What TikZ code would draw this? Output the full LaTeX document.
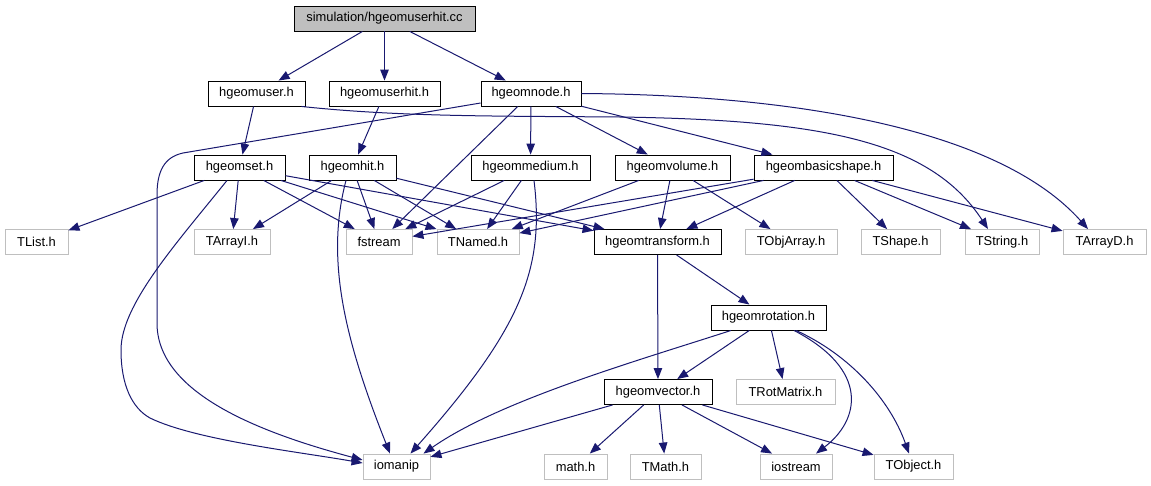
\documentclass[tikz,border=0pt]{standalone}
\usepackage{fontspec}
\setmainfont{Liberation Sans}
\usetikzlibrary{arrows.meta}
\definecolor{edgeblue}{HTML}{191970}
\definecolor{extgray}{HTML}{BFBFBF}
\begin{document}
\begin{tikzpicture}[x=1pt,y=-1pt,
  box/.style={rectangle, inner sep=0pt, line width=0.9pt, fill=white, text=black,
              font=\fontsize{12.9}{15}\selectfont, minimum height=25pt},
  doc/.style={box, draw=black},
  ext/.style={box, draw=extgray},
  rootbox/.style={box, draw=black, fill=extgray},
  dep/.style={draw=edgeblue, line width=1pt, -{Triangle[length=11pt,width=8.5pt]}}]
\useasboundingbox (0,0) rectangle (1151,485);
\fill[white] (0,0) rectangle (1151,485);

% row 1
\node[rootbox, minimum width=181pt] (root) at (384.5,18.5) {simulation/hgeomuserhit.cc};
% row 2
\node[doc, minimum width=97pt]  (huser)    at (256.5,93.5) {hgeomuser.h};
\node[doc, minimum width=111pt] (huserhit) at (384.5,93.5) {hgeomuserhit.h};
\node[doc, minimum width=100pt] (hnode)    at (531,93.5)   {hgeomnode.h};
% row 3
\node[doc, minimum width=91pt]  (hset)   at (239.5,167.5) {hgeomset.h};
\node[doc, minimum width=87pt]  (hhit)   at (352.5,167.5) {hgeomhit.h};
\node[doc, minimum width=119pt] (hmed)   at (530.5,167.5) {hgeommedium.h};
\node[doc, minimum width=115pt] (hvol)   at (672.5,167.5) {hgeomvolume.h};
\node[doc, minimum width=139pt] (hbasic) at (823.5,167.5) {hgeombasicshape.h};
% row 4
\node[ext, minimum width=63pt]  (TList)     at (36.5,242)  {TList.h};
\node[ext, minimum width=76pt]  (TArrayI)   at (232,242)   {TArrayI.h};
\node[ext, minimum width=66pt]  (fstream)   at (379,242)   {fstream};
\node[ext, minimum width=82pt]  (TNamed)    at (478,242)   {TNamed.h};
\node[doc, minimum width=127pt] (htrans)    at (657.5,242) {hgeomtransform.h};
\node[ext, minimum width=92pt]  (TObjArray) at (791,242)   {TObjArray.h};
\node[ext, minimum width=79pt]  (TShape)    at (900.5,242) {TShape.h};
\node[ext, minimum width=74pt]  (TString)   at (1002,242)  {TString.h};
\node[ext, minimum width=83pt]  (TArrayD)   at (1104.5,242){TArrayD.h};
% row 5
\node[doc, minimum width=115pt] (hrot) at (768.5,317.5) {hgeomrotation.h};
% row 6
\node[doc, minimum width=108pt] (hvec)       at (658,392)   {hgeomvector.h};
\node[ext, minimum width=99pt]  (TRotMatrix) at (785.5,392) {TRotMatrix.h};
% row 7
\node[ext, minimum width=67pt] (iomanip)  at (396.5,466.5) {iomanip};
\node[ext, minimum width=63pt] (mathh)    at (575.5,466.5) {math.h};
\node[ext, minimum width=71pt] (TMath)    at (665.5,466.5) {TMath.h};
\node[ext, minimum width=72pt] (iostream) at (796,466.5)   {iostream};
\node[ext, minimum width=79pt] (TObject)  at (913.5,466.5) {TObject.h};

% straight edges
\draw[dep] (root) -- (huser);
\draw[dep] (root) -- (huserhit);
\draw[dep] (root) -- (hnode);
\draw[dep] (huser) -- (hset);
\draw[dep] (huserhit) -- (hhit);
\draw[dep] (hnode) -- (fstream);
\draw[dep] (hnode) -- (hmed);
\draw[dep] (hnode) -- (hvol);
\draw[dep] (hnode) -- (hbasic);
\draw[dep] (hset) -- (TList);
\draw[dep] (hset) -- (TArrayI);
\draw[dep] (hset) -- (fstream);
\draw[dep] (hset) -- (TNamed);
\draw[dep] (hset) -- (htrans);
\draw[dep] (hhit) -- (TArrayI);
\draw[dep] (hhit) -- (fstream);
\draw[dep] (hhit) -- (TNamed);
\draw[dep] (hhit) -- (htrans);
\draw[dep] (hmed) -- (fstream);
\draw[dep] (hmed) -- (TNamed);
\draw[dep] (hvol) -- (TNamed);
\draw[dep] (hvol) -- (htrans);
\draw[dep] (hvol) -- (TObjArray);
\draw[dep] (hbasic) -- (fstream);
\draw[dep] (hbasic) -- (TNamed);
\draw[dep] (hbasic) -- (htrans);
\draw[dep] (hbasic) -- (TShape);
\draw[dep] (hbasic) -- (TString);
\draw[dep] (hbasic) -- (TArrayD);
\draw[dep] (htrans) -- (hrot);
\draw[dep] (htrans) -- (hvec);
\draw[dep] (hrot) -- (hvec);
\draw[dep] (hrot) -- (TRotMatrix);
\draw[dep] (hvec) -- (iomanip);
\draw[dep] (hvec) -- (mathh);
\draw[dep] (hvec) -- (TMath);
\draw[dep] (hvec) -- (iostream);
\draw[dep] (hvec) -- (TObject);

% curved edges
\draw[dep] ([xshift=-4pt]huser.south east)
  .. controls (400,117) and (500,116) .. (620,117)
  .. controls (820,120) and (930,140) .. ([xshift=-14pt]TString.north);
\draw[dep] ([xshift=0pt]hnode.east)
  .. controls (800,95) and (1000,130) .. ([xshift=-16.5pt]TArrayD.north);
\draw[dep] ([yshift=-9.5pt]hnode.west) -- (183,153)
  .. controls (165,157) and (157,170) .. (157,195) -- (157,323)
  .. controls (157,390) and (250,430) .. ([yshift=6.5pt]iomanip.west);
\draw[dep] ([xshift=-12.5pt]hset.south)
  .. controls (175,245) and (121,305) .. (121,350)
  .. controls (121,385) and (132,408) .. (150,418)
  .. controls (195,440) and (300,452) .. ([yshift=3.5pt]iomanip.west);
\draw[dep] ([xshift=-6.5pt]hhit.south)
  .. controls (325,260) and (345,340) .. ([xshift=-6.5pt]iomanip.north);
\draw[dep] ([xshift=3.5pt]hmed.south)
  .. controls (545,270) and (520,330) .. ([xshift=14pt]iomanip.north);
\draw[dep] ([xshift=-37.5pt]hrot.south)
  .. controls (640,360) and (500,400) .. ([xshift=27pt]iomanip.north);
\draw[dep] ([xshift=25.5pt]hrot.south)
  .. controls (870,370) and (860,420) .. ([xshift=20pt]iostream.north);
\draw[dep] ([xshift=27.5pt]hrot.south)
  .. controls (850,355) and (890,400) .. ([xshift=-4.5pt]TObject.north);
\end{tikzpicture}
\end{document}
